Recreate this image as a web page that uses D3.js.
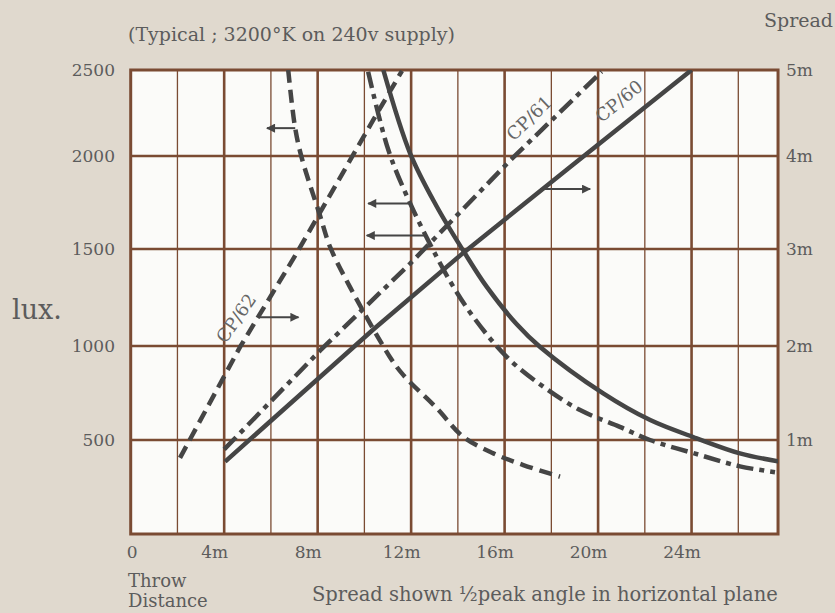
<!DOCTYPE html>
<html>
<head>
<meta charset="utf-8">
<script src="https://cdn.jsdelivr.net/npm/d3@7"></script>
<style>
  body { margin: 0; background: #e0d9ce; }
  svg { display: block; }
</style>
</head>
<body>
<svg id="chart"></svg>
<script>
// lux against throw distance (m)
let cp60Lux = [[10.81,2500],[11.96,2014],[13.09,1730],[14.30,1478],[15.23,1306],[16.52,1112],[17.52,995],[20.22,748],[22.23,606],[24.22,509],[26.07,429],[27.78,385]]
let cp61Lux = [[10.16,2490],[11.03,2033],[11.96,1745],[13.09,1460],[13.81,1305],[14.66,1150],[16.09,942],[17.66,783],[19.23,659],[20.93,570],[22.22,500],[24.36,420],[26.07,360],[27.57,329]]
let cp62Lux = [[6.74,2500],[7.03,2169],[7.31,1994],[8.10,1680],[8.53,1512],[9.38,1305],[11.09,942],[11.67,845],[13.09,670],[14.23,517],[15.52,429],[16.80,367],[18.37,305]]

// spread (m) against throw distance (m)
let cp60Spread = [[4.04,0.77],[10.38,2.17],[14.23,2.96],[18.79,3.88],[24.00,5.0]]
let cp61Spread = [[4.00,0.90],[8.10,1.95],[11.96,2.85],[16.23,3.95],[20.15,4.98]]
let cp62Spread = [[2.11,0.81],[4.68,1.99],[7.11,2.96],[10.38,4.42],[11.61,4.99]]

// arrows showing which scale a curve belongs to: [fromX, toX, lux]
let arrows = [[7.04,5.83,2162],[5.46,7.18,1148],[11.96,10.16,1745],[12.67,10.10,1572],[17.52,19.66,1822]]

// curve names placed along the spread lines: [name, x, lux]
let names = [["CP/62",4.51,1143],["CP/61",17.05,2220],["CP/60",20.89,2319]]

let luxTicks = [500, 1000, 1500, 2000, 2500]
let spreadTicks = [1, 2, 3, 4, 5]
let throwGrid = [2, 4, 6, 8, 10, 12, 14, 16, 18, 20, 22, 24, 26]
let throwTicks = [0, 4, 8, 12, 16, 20, 24]
let xMax = 27.7

let width = 835
let height = 613

let ink = "#454545"
let gridColor = "#7a4b33"
let textColor = "#5c5c5c"
let font = "'DejaVu Serif', serif"

let svg = d3.select("#chart")
  .attr("width", width)
  .attr("height", height)

// the printed grid is not quite even, so the scales follow its lines
let xScale = d3.scaleLinear().domain([0, 26]).range([130.7, 738.3])
let yScale = d3.scaleLinear().domain([0, 500, 1000, 1500, 2000, 2500]).range([534, 440, 346, 249, 156, 70])
let spreadScale = d3.scaleLinear().domain([0, 1, 2, 3, 4, 5]).range(yScale.range())

let plotLeft = xScale(0)
let plotRight = xScale(xMax)
let plotTop = yScale(2500)
let plotBottom = yScale(0)

svg.append("rect")
   .attr("x", plotLeft).attr("y", plotTop)
   .attr("width", plotRight - plotLeft).attr("height", plotBottom - plotTop)
   .attr("fill", "#fbfbf9")

svg.append("clipPath").attr("id", "plot")
   .append("rect")
   .attr("x", plotLeft).attr("y", plotTop)
   .attr("width", plotRight - plotLeft).attr("height", plotBottom - plotTop)

// grid
svg.selectAll(".vgrid")
   .data(throwGrid)
   .enter()
   .append("line")
   .attr("class", "vgrid")
   .attr("x1", d => xScale(d)).attr("x2", d => xScale(d))
   .attr("y1", plotTop).attr("y2", plotBottom)
   .attr("stroke", gridColor)
   .attr("stroke-width", d => d % 4 == 0 ? 2.6 : 1.3)

svg.selectAll(".hgrid")
   .data(luxTicks.slice(0, 4))
   .enter()
   .append("line")
   .attr("class", "hgrid")
   .attr("x1", plotLeft).attr("x2", plotRight)
   .attr("y1", d => yScale(d)).attr("y2", d => yScale(d))
   .attr("stroke", gridColor)
   .attr("stroke-width", 2.6)

svg.append("rect")
   .attr("x", plotLeft).attr("y", plotTop)
   .attr("width", plotRight - plotLeft).attr("height", plotBottom - plotTop)
   .attr("fill", "none")
   .attr("stroke", gridColor)
   .attr("stroke-width", 3)

// curves
let luxLine = d3.line()
  .x(d => xScale(d[0]))
  .y(d => yScale(d[1]))
  .curve(d3.curveCatmullRom.alpha(0.5))

let spreadLine = d3.line()
  .x(d => xScale(d[0]))
  .y(d => spreadScale(d[1]))

let curves = svg.append("g").attr("clip-path", "url(#plot)")

let drawCurve = (path, dash) => {
  curves.append("path")
     .attr("d", path)
     .attr("fill", "none")
     .attr("stroke", ink)
     .attr("stroke-width", 4.5)
     .attr("stroke-dasharray", dash)
}

drawCurve(luxLine(cp62Lux), "13,7")
drawCurve(spreadLine(cp62Spread), "13,7")
drawCurve(luxLine(cp61Lux), "17,6,5,6")
drawCurve(spreadLine(cp61Spread), "17,6,5,6")
drawCurve(luxLine(cp60Lux), null)
drawCurve(spreadLine(cp60Spread), null)

// arrows
svg.append("defs")
   .append("marker")
   .attr("id", "head")
   .attr("viewBox", "0 0 10 10")
   .attr("refX", 9).attr("refY", 5)
   .attr("markerUnits", "userSpaceOnUse")
   .attr("markerWidth", 14).attr("markerHeight", 9)
   .attr("orient", "auto")
   .append("path")
   .attr("d", "M0,0 L10,5 L0,10 z")
   .attr("fill", ink)

svg.selectAll(".arrow")
   .data(arrows)
   .enter()
   .append("line")
   .attr("class", "arrow")
   .attr("x1", d => xScale(d[0]))
   .attr("x2", d => xScale(d[1]))
   .attr("y1", d => yScale(d[2]))
   .attr("y2", d => yScale(d[2]))
   .attr("stroke", ink)
   .attr("stroke-width", 2)
   .attr("marker-end", "url(#head)")

// curve names
let angles = { "CP/62": -55, "CP/61": -44, "CP/60": -39 }
svg.selectAll(".name")
   .data(names)
   .enter()
   .append("text")
   .attr("class", "name")
   .attr("transform", d => "translate(" + xScale(d[1]) + "," + yScale(d[2]) + ") rotate(" + angles[d[0]] + ")")
   .attr("text-anchor", "middle")
   .attr("dy", "0.35em")
   .style("font-family", font)
   .style("font-size", "18px")
   .attr("fill", "#666")
   .text(d => d[0])

// axes
let styleAxis = (g) => {
  g.select(".domain").remove()
  g.selectAll("text")
   .style("font-family", font)
   .style("font-size", "17px")
   .attr("fill", textColor)
}

svg.append("g")
   .attr("transform", "translate(115,0)")
   .call(d3.axisLeft(yScale).tickValues(luxTicks).tickSize(0).tickPadding(0).tickFormat(d3.format("d")))
   .call(styleAxis)

svg.append("g")
   .attr("transform", "translate(" + (plotRight + 8) + ",0)")
   .call(d3.axisRight(spreadScale).tickValues(spreadTicks).tickSize(0).tickPadding(0).tickFormat(d => d + "m"))
   .call(styleAxis)

svg.append("g")
   .attr("transform", "translate(0," + (plotBottom + 12) + ")")
   .call(d3.axisBottom(xScale).tickValues(throwTicks).tickSize(0).tickPadding(0).tickFormat(d => d == 0 ? "0" : d + "m"))
   .call(styleAxis)
   .selectAll("text")
   .attr("dx", d => d == 0 ? 1 : -10)

// titles
let addText = (x, y, txt, size, anchor) => {
  svg.append("text")
     .attr("x", x).attr("y", y)
     .attr("text-anchor", anchor || "start")
     .style("font-family", font)
     .style("font-size", size + "px")
     .attr("fill", textColor)
     .text(txt)
}

addText(128, 41, "(Typical ; 3200°K on 240v supply)", 19)
addText(833, 27, "Spread", 19, "end")
addText(12, 319, "lux.", 27)
addText(128, 587, "Throw", 18)
addText(128, 607, "Distance", 18)
addText(312, 601, "Spread shown ½peak angle in horizontal plane", 19.5)
</script>
</body>
</html>
